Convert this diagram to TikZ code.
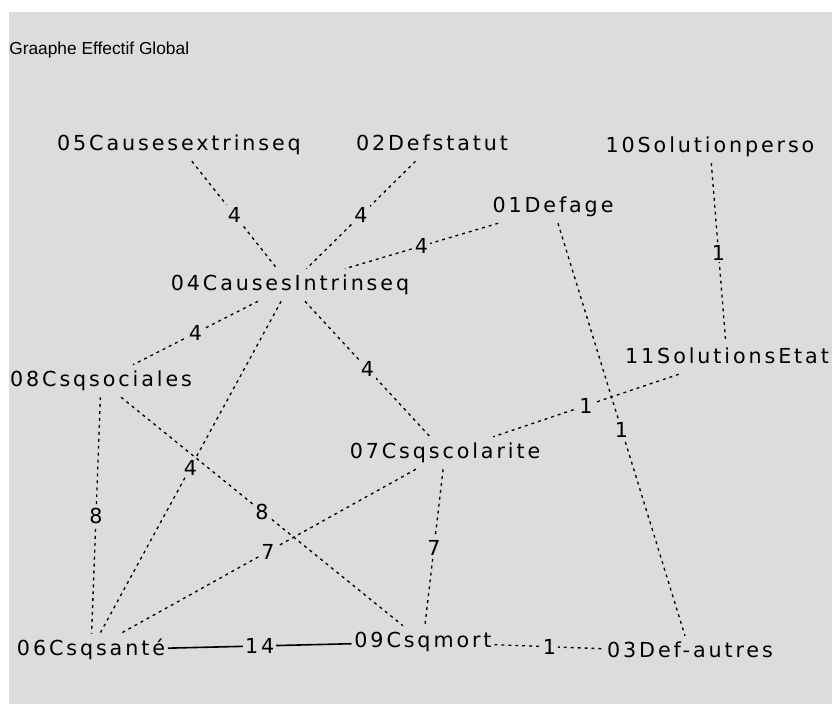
\documentclass[tikz,border=0pt]{standalone}
\usepackage{fontspec}
\setmainfont{Liberation Sans}
\newfontfamily\graphfont[LetterSpace=14]{DejaVu Sans}
\definecolor{panelgray}{RGB}{220,220,220}

\begin{document}
\begin{tikzpicture}[x=0.75pt,y=-0.75pt,
    word node/.style={font=\graphfont\fontsize{15.5}{17}\selectfont,
      text height=11pt,text depth=3pt,inner xsep=2pt,inner ysep=5pt},
    count/.style={fill=panelgray,inner sep=1.5pt,
      font=\graphfont\fontsize{15.5}{17}\selectfont},
    link/.style={dash pattern=on 2.2pt off 3pt,line width=1pt},
    solid link/.style={solid,line width=1.2pt}]

  \useasboundingbox (0,0) rectangle (832,704);
  \fill[white] (0,0) rectangle (832,704);
  \fill[panelgray] (9,12) rectangle (832,704);

  \node[anchor=west,inner sep=0pt,font=\fontsize{13}{15}\selectfont] (title) at (9,50) {Graaphe Effectif Global};

  \node[word node] (n05) at (179,145) {05Causesextrinseq};
  \node[word node] (n02) at (432,145) {02Defstatut};
  \node[word node] (n10) at (710,147) {10Solutionperso};
  \node[word node] (n01) at (553,207) {01Defage};
  \node[word node] (n04) at (290,285) {04CausesIntrinseq};
  \node[word node] (n11) at (727,358) {11SolutionsEtat};
  \node[word node] (n08) at (101,381) {08Csqsociales};
  \node[word node] (n07) at (445,453) {07Csqscolarite};
  \node[word node] (n06) at (91,650) {06Csqsanté};
  \node[word node] (n09) at (423,642) {09Csqmort};
  \node[word node] (n03) at (690,652) {03Def-autres};

  \path[link]
    (n05) edge node[count] {4} (n04)
    (n02) edge node[count] {4} (n04)
    (n01) edge node[count] {4} (n04)
    (n04) edge node[count] {4} (n08)
          edge node[count] {4} (n06)
          edge node[count] {4} (n07)
    (n10) edge node[count] {1} (n11)
    (n01) edge node[count] {1} (n03)
    (n11) edge node[count] {1} (n07)
    (n08) edge node[count] {8} (n06)
          edge node[count] {8} (n09)
    (n07) edge node[count] {7} (n06)
          edge node[count] {7} (n09)
    (n09) edge node[count] {1} (n03)
    (n06) edge[solid link] node[count] {14} (n09); % heaviest link

\end{tikzpicture}
\end{document}
